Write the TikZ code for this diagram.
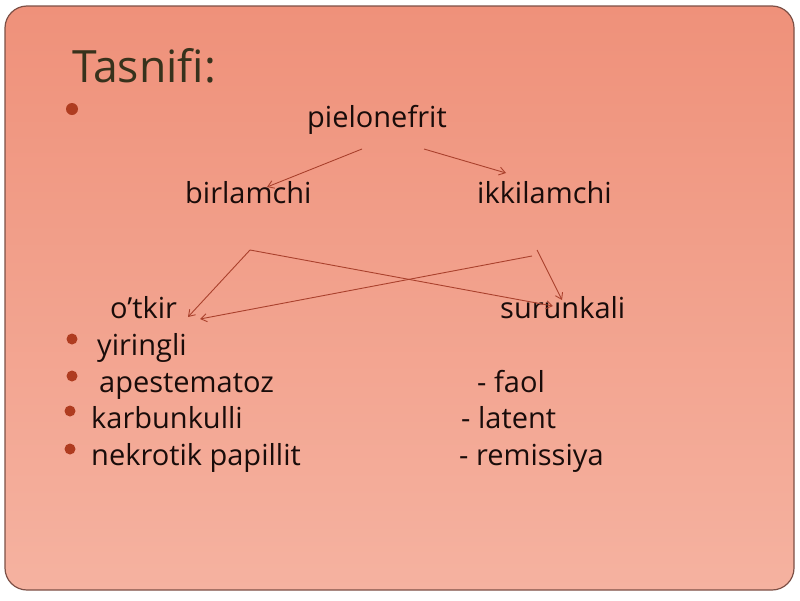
\documentclass[tikz,border=0pt]{standalone}
\usepackage{fontspec}
\setmainfont{Open Sans}
\usetikzlibrary{arrows.meta}
\definecolor{bgtop}{RGB}{239,145,122}
\definecolor{bgbot}{RGB}{245,178,160}
\definecolor{edgec}{RGB}{125,80,70}
\definecolor{titlec}{RGB}{55,50,28}
\definecolor{txt}{RGB}{25,12,10}
\definecolor{bul}{RGB}{175,60,32}
\definecolor{arr}{RGB}{170,65,45}
\begin{document}
\begin{tikzpicture}[x=1pt,y=-1pt,
 lbl/.style={anchor=base west, inner sep=0pt, text=txt, font=\fontsize{29}{34}\selectfont},
 ttl/.style={anchor=base west, inner sep=0pt, text=titlec, font=\fontsize{44.5}{50}\selectfont},
 dot/.style={circle, fill=bul, inner sep=0pt, minimum size=11pt},
 con/.style={draw=arr, line width=0.9pt, -{Straight Barb[length=6pt,width=8pt]}}]
\useasboundingbox (0,0) rectangle (800,600);
\fill[white] (0,0) rectangle (800,600);
\shade[top color=bgtop, bottom color=bgbot, rounded corners=22pt] (5,6) rectangle (794,590);
\draw[edgec, line width=1.2pt, rounded corners=22pt] (5,6) rectangle (794,590);
% title
\node[ttl] (title) at (72,82) {Tasnifi:};
\node[dot, minimum size=12pt] (b0) at (72,109) {};
\node[lbl] (piel) at (307,127) {pielonefrit};
\node[lbl] (birl) at (185,203) {birlamchi};
\node[lbl] (ikki) at (477,203) {ikkilamchi};
\node[lbl] (otk) at (110,318) {o’tkir};
\node[lbl] (sur) at (500,318) {surunkali};
% list
\node[dot] (b1) at (72,339) {};
\node[dot] (b2) at (72,376) {};
\node[dot] (b3) at (70,411) {};
\node[dot] (b4) at (70,449) {};
\node[lbl] (yir) at (97,355) {yiringli};
\node[lbl] (ape) at (99,392) {apestematoz};
\node[lbl] (kar) at (91,428) {karbunkulli};
\node[lbl] (nek) at (91,465) {nekrotik papillit};
\node[lbl] (fao) at (477,392) {- faol};
\node[lbl] (lat) at (461,428) {- latent};
\node[lbl] (rem) at (459,465) {- remissiya};
% connectors
\coordinate (p1) at (362,149);
\coordinate (p2) at (424,149);
\coordinate (e1) at (267,187);
\coordinate (e2) at (506,173);
\coordinate (bA) at (250,250);
\coordinate (iA) at (532,256);
\coordinate (iB) at (537,250);
\coordinate (o1) at (188,317);
\coordinate (o2) at (200,319);
\coordinate (s1) at (553,306);
\coordinate (s2) at (562,300);
\draw[con] (p1) -- (e1);
\draw[con] (p2) -- (e2);
\draw[con] (bA) -- (o1);
\draw[con] (bA) -- (s1);
\draw[con] (iA) -- (o2);
\draw[con] (iB) -- (s2);
\end{tikzpicture}
\end{document}
